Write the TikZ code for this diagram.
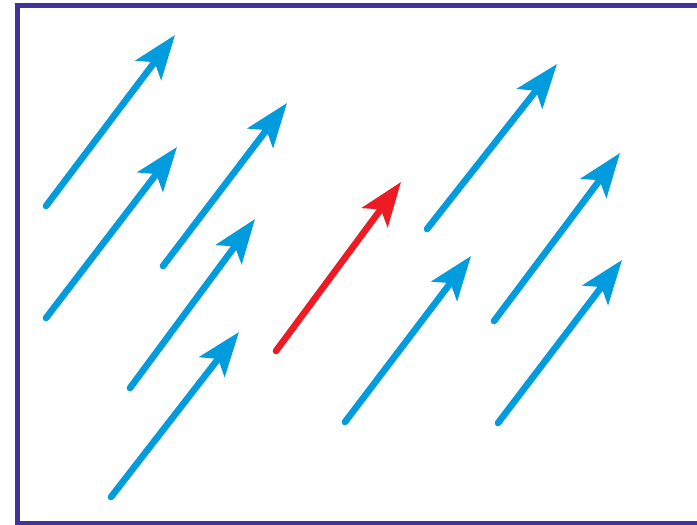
\documentclass[tikz,border=0pt]{standalone}
\usetikzlibrary{arrows.meta}

\definecolor{framepurple}{RGB}{64,50,150}
\definecolor{vecblue}{RGB}{0,156,222}
\definecolor{vecred}{RGB}{237,28,36}

\begin{document}
\begin{tikzpicture}[%
        x=0.5pt,y=-0.5pt,
        >={Stealth[length=22pt,width=16pt,inset=5pt]},
        vec/.style={->,line width=3.3pt,line cap=round,vecblue}
    ]
    \useasboundingbox (0,0) rectangle (697,525);
    \clip (0,0) rectangle (697,525);

    \draw[framepurple,line width=2.5pt] (17.5,5.5) rectangle (730,523);

    % the field of equal vectors
    \foreach \n/\sx/\sy/\tx/\ty in {%
            1/46/206/175/35,
            2/46/318/177/147,
            3/163/266/287/103,
            4/130/388/255/219,
            5/111/497/239/332,
            7/427/229/557/64,
            8/345/422/471/256,
            9/494/321/620/153,
            10/498/423/622/260} {
        \coordinate (v\n-s) at (\sx,\sy);
        \coordinate (v\n-t) at (\tx,\ty);
        \draw[vec] (v\n-s) -- (v\n-t);
    }

    % the marked one
    \coordinate (v6-s) at (276,351);
    \coordinate (v6-t) at (401,182);
    \draw[vec,vecred] (v6-s) -- (v6-t);
\end{tikzpicture}
\end{document}
